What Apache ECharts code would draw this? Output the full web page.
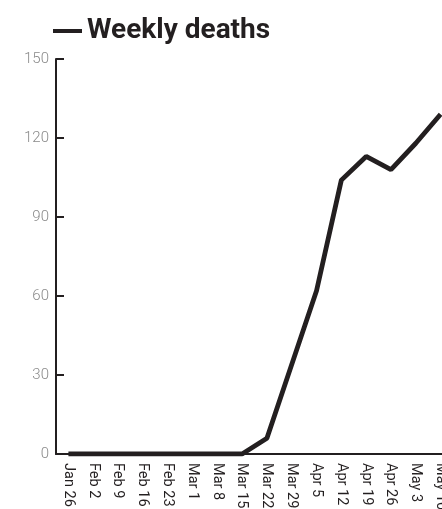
<!DOCTYPE html>
<html><head><meta charset="utf-8">
<script src="https://cdn.jsdelivr.net/npm/echarts@6/dist/echarts.min.js"></script>
<style>html,body{margin:0;padding:0;background:#fff;overflow:hidden}#c{width:442px;height:509px}</style>
</head><body><div id="c"></div>
<script>
const categories = ['Jan 26','Feb 2','Feb 9','Feb 16','Feb 23','Mar 1','Mar 8','Mar 15','Mar 22','Mar 29','Apr 5','Apr 12','Apr 19','Apr 26','May 3','May 10'];
const weeklyDeaths = [0,0,0,0,0,0,0,0,6,34,62,104,113,108,118,129];
const yTicks = [0,30,60,90,120,150];
const seriesName = 'Weekly deaths';
const lightFont = "Roboto, sans-serif";

const chart = echarts.init(document.getElementById('c'));
chart.setOption({
  animation: false,
  legend: {
    left: 48, top: 12,
    itemWidth: 29, itemHeight: 4, itemGap: 5,
    data: [{name: seriesName, icon: 'rect'}],
    textStyle: {fontFamily: 'Roboto', fontWeight: 'bold', fontSize: 28, color: '#231f20'}
  },
  grid: {left: 56, top: 59, width: 397, height: 395, containLabel: false, outerBoundsMode: 'none'},
  xAxis: {
    type: 'category', data: categories, boundaryGap: true,
    axisLine: {lineStyle: {color: '#231f20', width: 2}},
    axisTick: {show: false},
    axisLabel: {rotate: -90, interval: 0, margin: 9, fontSize: 14.5, color: '#231f20', fontFamily: lightFont, fontWeight: 'normal'}
  },
  yAxis: {
    type: 'value', min: yTicks[0], max: yTicks[yTicks.length-1], interval: 30,
    axisLine: {show: true, lineStyle: {color: '#231f20', width: 2}},
    axisTick: {show: true, inside: true, length: 8, lineStyle: {color: '#231f20', width: 2}},
    splitLine: {show: false},
    axisLabel: {margin: 7, fontSize: 15, color: '#8a8a8a', fontFamily: lightFont, fontWeight: 300}
  },
  series: [{
    name: seriesName, type: 'line', data: weeklyDeaths,
    symbol: 'none', lineStyle: {color: '#231f20', width: 4.8}, itemStyle: {color: '#231f20'}
  }]
});
</script></body></html>
